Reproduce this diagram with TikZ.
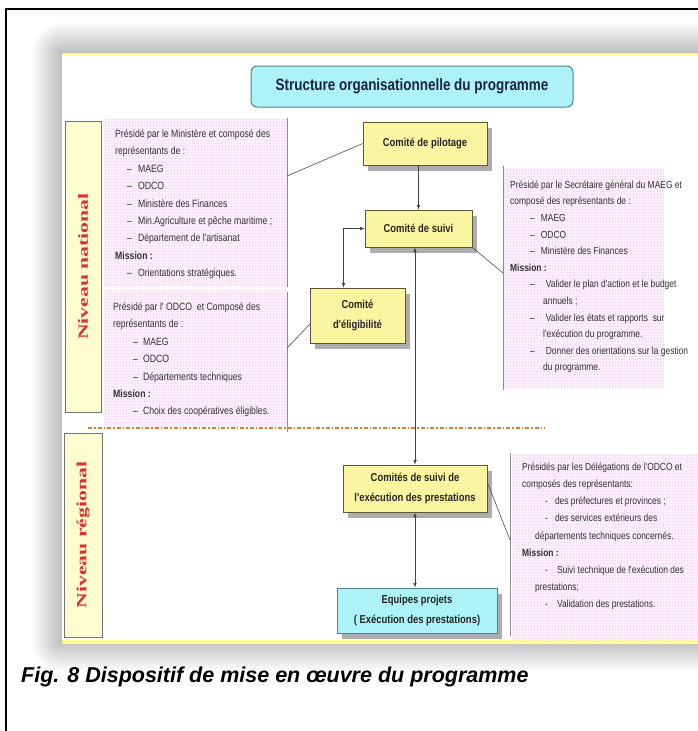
\documentclass[tikz,border=0pt]{standalone}
\usepackage{fontspec}
\setmainfont{Liberation Sans}
\newfontfamily\narrowfont[FakeStretch=0.82]{Liberation Sans}
\newfontfamily\levelfont[FakeStretch=1.55]{Liberation Serif}
\usetikzlibrary{shadows,shadows.blur,patterns}
\definecolor{boxfill}{RGB}{250,245,160}
\definecolor{boxline}{RGB}{95,85,55}
\definecolor{cyanfill}{RGB}{172,242,246}
\definecolor{cyanline}{RGB}{80,130,140}
\definecolor{levelfill}{RGB}{255,253,208}
\definecolor{levelred}{RGB}{225,45,45}
\definecolor{panelfill}{RGB}{253,244,252}
\definecolor{panelgrid}{RGB}{248,226,245}
\definecolor{bodytext}{RGB}{50,50,50}
\definecolor{titletext}{RGB}{25,35,60}
\definecolor{splitline}{RGB}{215,125,60}
\newcommand{\pdash}[2]{\hspace*{#1}–\hspace{#2}}
\newcommand{\phyph}[2]{\hspace*{#1}-\hspace{#2}}
\tikzstyle{committee}=[rectangle, draw=boxline, fill=boxfill, line width=0.8pt, align=center, text=black!85, font=\narrowfont\bfseries\fontsize{11.5}{20}\selectfont, drop shadow={shadow xshift=5pt, shadow yshift=-6pt, fill=black!40, opacity=0.8}]
\tikzstyle{projectbox}=[committee, fill=cyanfill, draw=cyanline]
\tikzstyle{titlebox}=[rectangle, rounded corners=6pt, draw=cyanline, fill=cyanfill, line width=1pt, text=titletext, font=\narrowfont\bfseries\fontsize{16.4}{19}\selectfont]
\tikzstyle{levelbox}=[rectangle, draw=black!55, fill=levelfill, line width=0.8pt, rotate=90, text=levelred, font=\levelfont\bfseries\fontsize{14}{16}\selectfont]
\tikzstyle{paneltext}=[anchor=north west, inner sep=0pt, align=left, text=bodytext, font=\narrowfont\fontsize{10.6}{17.4}\selectfont]
\tikzstyle{panelbg}=[fill=panelfill, postaction={pattern=grid, pattern color=panelgrid}]
\tikzstyle{panelrule}=[draw=black!45, line width=0.8pt]
\tikzstyle{link}=[draw=black!70, line width=0.6pt]
\tikzstyle{flow}=[draw=black!75, line width=0.6pt, >=latex]
\begin{document}
\begin{tikzpicture}[x=1pt, y=-1pt]
\useasboundingbox (0,0) rectangle (698,731);
% frame and slide
\draw[line width=1.5pt] (6,731) -- (6,9) -- (698,9);
\fill[white, blur shadow={shadow xshift=-1pt, shadow yshift=1pt, shadow blur radius=30pt, shadow blur steps=30, shadow opacity=50}] (62,53) rectangle (712,643);
\draw[levelfill!60!yellow, line width=1.5pt] (62,54) -- (698,54);
\fill[levelfill!70!yellow] (62,640) rectangle (698,644);

\node[titlebox, minimum width=322, minimum height=41] (title) at (412,86.5) {Structure organisationnelle du programme};
\node[levelbox, minimum width=291, minimum height=36] (national) at (83,266.5) {Niveau national};
\node[levelbox, minimum width=204, minimum height=38] (regional) at (83,535) {Niveau régional};

% panels
\path[panelbg] (104,119) rectangle (287,286);
\path[panelbg] (104,290) rectangle (287,426);
\path[panelbg] (503,168) rectangle (664,388);
\path[panelbg] (512,454) rectangle (698,640);
\draw[panelrule] (287,118) -- (287,287);
\draw[panelrule] (287,292) -- (287,432);
\draw[panelrule] (503,166) -- (503,390);
\draw[panelrule] (510,453) -- (510,636);
\coordinate (ruleA) at (287,176);
\coordinate (ruleB) at (287,348);
\coordinate (ruleC) at (503,273);
\coordinate (ruleD) at (510,540);

\draw[splitline, line width=1.2pt, dash pattern=on 4pt off 2pt on 1.5pt off 2pt] (88,428) -- (545,428);

\node[paneltext] (txtA) at (115,129.5) {Présidé par le Ministère et composé des\\
  représentants de :\\
  \pdash{12pt}{6pt}MAEG\\
  \pdash{12pt}{6pt}ODCO\\
  \pdash{12pt}{6pt}Ministère des Finances\\
  \pdash{12pt}{6pt}Min.Agriculture et pêche maritime ;\\
  \pdash{12pt}{6pt}Département de l'artisanat\\
  \textbf{Mission :}\\
  \pdash{12pt}{6pt}Orientations stratégiques.};
\node[paneltext] (txtB) at (113,302.5) {Présidé par l' ODCO~ et Composé des\\
  représentants de :\\
  \pdash{20pt}{5pt}MAEG\\
  \pdash{20pt}{5pt}ODCO\\
  \pdash{20pt}{5pt}Départements techniques\\
  \textbf{Mission :}\\
  \pdash{20pt}{5pt}Choix des coopératives éligibles.};
\node[paneltext, font=\narrowfont\fontsize{10.3}{16.6}\selectfont] (txtC) at (510,180.5) {Présidé par le Secrétaire général du MAEG et\\
  composé des représentants de :\\
  \pdash{20pt}{6pt}MAEG\\
  \pdash{20pt}{6pt}ODCO\\
  \pdash{20pt}{6pt}Ministère des Finances\\
  \textbf{Mission :}\\
  \pdash{20pt}{11pt}Valider le plan d'action et le budget\\
  \hspace*{33pt}annuels ;\\
  \pdash{20pt}{11pt}Valider les états et rapports~ sur\\
  \hspace*{33pt}l'exécution du programme.\\
  \pdash{20pt}{11pt}Donner des orientations sur la gestion\\
  \hspace*{33pt}du programme.};
\node[paneltext, font=\narrowfont\fontsize{10.3}{17.2}\selectfont] (txtD) at (522,462.5) {Présidés par les Délégations de l'ODCO et\\
  composés des représentants:\\
  \phyph{23pt}{7pt}des préfectures et provinces ;\\
  \phyph{23pt}{7pt}des services extérieurs des\\
  \hspace*{13pt}départements techniques concernés.\\
  \textbf{Mission :}\\
  \phyph{23pt}{9pt}Suivi technique de l'exécution des\\
  \hspace*{13pt}prestations;\\
  \phyph{23pt}{9pt}Validation des prestations.};

% committees
\node[committee, minimum width=124, minimum height=43] (pilotage) at (425,143.5) {Comité de pilotage};
\node[committee, minimum width=107, minimum height=37] (suivi) at (418.5,228.5) {Comité de suivi};
\node[committee, minimum width=95, minimum height=55] (elig) at (357.5,315.5) {Comité\\d'éligibilité};
\node[committee, minimum width=144, minimum height=47] (exec) at (415,488.5) {Comités de suivi de\\l'exécution des prestations};
\node[projectbox, minimum width=160, minimum height=45] (equipes) at (417,610.5) {Equipes projets\\( Exécution des prestations)};

\draw[flow, ->] (pilotage.south -| suivi.north) -- (suivi.north);
\draw[flow, <->] ([xshift=-14pt]elig.north) |- (suivi.west);
\draw[flow, <->] (exec.north) -- (exec.north |- suivi.south);
\draw[flow, <->] (exec.south) -- (exec.south |- equipes.north);
\draw[link] (pilotage.west) -- (ruleA);
\draw[link] (suivi.south east) -- (ruleC);
\draw[link] ([yshift=-9pt]elig.west) -- (ruleB);
\draw[link] ([yshift=6pt]exec.east) -- (ruleD);

\node[font=\bfseries\itshape\fontsize{21.5}{24}\selectfont, anchor=west, inner sep=0pt] (caption) at (21,677) {Fig. 8 Dispositif de mise en œuvre du programme};
\end{tikzpicture}
\end{document}
